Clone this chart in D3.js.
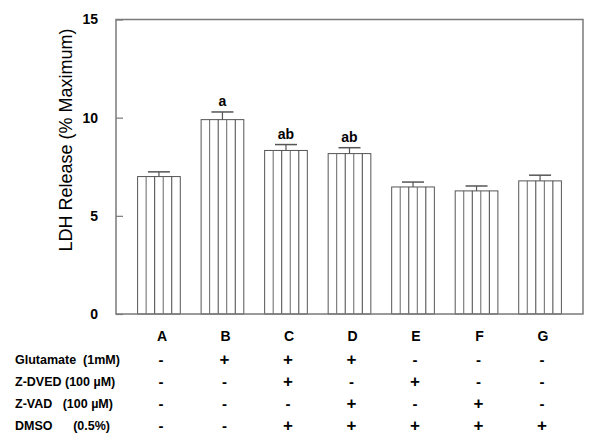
<!DOCTYPE html>
<html>
<head>
<meta charset="utf-8">
<script src="https://cdn.jsdelivr.net/npm/d3@7"></script>
<style>
  html, body { margin: 0; padding: 0; background: #fff; }
  svg { display: block; }
  text { font-family: "Liberation Sans", Arial, sans-serif; }
</style>
</head>
<body>
<svg id="chart" width="600" height="441"></svg>
<script>
const categories = ["A", "B", "C", "D", "E", "F", "G"];
const values = [7.0, 9.9, 8.33, 8.17, 6.47, 6.27, 6.78];
const errors = [0.24, 0.39, 0.3, 0.3, 0.25, 0.25, 0.29];
const sigLabels = ["", "a", "ab", "ab", "", "", ""];
const yTicks = [0, 5, 10, 15];
const rowLabels = [
  ["Glutamate  (1mM)"],
  ["Z-DVED (100 µM)"],
  ["Z-VAD   (100 µM)"],
  ["DMSO", "(0.5%)"]
];
const treatments = [
  ["-", "+", "+", "+", "-", "-", "-"],
  ["-", "-", "+", "-", "+", "-", "-"],
  ["-", "-", "-", "+", "-", "+", "-"],
  ["-", "-", "+", "+", "+", "+", "+"]
];

const svg = d3.select("#chart");
const pLeft = 116, pRight = 583, pTop = 19.5, pBottom = 314;

const x = d3.scaleBand().domain(categories).range([pLeft, pRight])
  .paddingInner(0.328).paddingOuter(0.34);
const y = d3.scaleLinear().domain([0, 15]).range([pBottom, pTop]);

const frameColor = "#7a7a7a";
const barColor = "#555";

// bars with vertical stripes
const bw = x.bandwidth();
const stripes = 5;
categories.forEach((c, i) => {
  const x0 = x(c), y0 = y(values[i]);
  const g = svg.append("g");
  g.append("rect")
    .attr("x", x0).attr("y", y0)
    .attr("width", bw).attr("height", y(0) - y0)
    .attr("fill", "#fff").attr("stroke", barColor).attr("stroke-width", 1);
  for (let k = 1; k < stripes; k++) {
    const xx = x0 + bw * k / stripes;
    g.append("line")
      .attr("x1", xx).attr("x2", xx)
      .attr("y1", y0).attr("y2", y(0))
      .attr("stroke", k % 2 ? "#666" : "#444").attr("stroke-width", 1);
  }
  // error bar
  const cx = x0 + bw / 2, ye = y(values[i] + errors[i]);
  g.append("line").attr("x1", cx).attr("x2", cx).attr("y1", y0).attr("y2", ye)
    .attr("stroke", barColor).attr("stroke-width", 1.2);
  g.append("line").attr("x1", cx - 11).attr("x2", cx + 11).attr("y1", ye).attr("y2", ye)
    .attr("stroke", barColor).attr("stroke-width", 1.5);
  if (sigLabels[i]) {
    g.append("text").attr("x", cx).attr("y", ye - 6)
      .attr("text-anchor", "middle")
      .attr("font-size", 14).attr("font-weight", "bold")
      .text(sigLabels[i]);
  }
});

// frame
svg.append("rect")
  .attr("x", pLeft).attr("y", pTop)
  .attr("width", pRight - pLeft).attr("height", pBottom - pTop)
  .attr("fill", "none").attr("stroke", frameColor).attr("stroke-width", 1.5);

// y axis
const yAxis = d3.axisLeft(y).tickValues(yTicks).tickSize(-7).tickPadding(18)
  .tickFormat(d3.format("d"));
const ga = svg.append("g").attr("transform", `translate(${pLeft},0)`).call(yAxis);
ga.select(".domain").remove();
ga.selectAll(".tick line").attr("stroke", frameColor).attr("stroke-width", 1.2);
ga.selectAll(".tick text")
  .attr("font-size", 14).attr("font-weight", "bold").attr("fill", "#000")
  .attr("font-family", "'Liberation Sans', Arial, sans-serif");

// y title
svg.append("text")
  .attr("transform", "translate(72,140) rotate(-90)")
  .attr("text-anchor", "middle")
  .attr("font-size", 18)
  .text("LDH Release (% Maximum)");

// category letters
const xAxis = d3.axisBottom(x).tickSize(0).tickPadding(0);
const gx = svg.append("g").attr("transform", `translate(3,336)`).call(xAxis);
gx.select(".domain").remove();
gx.selectAll(".tick text")
  .attr("dy", "0.35em")
  .attr("font-size", 14).attr("font-weight", "bold").attr("fill", "#000")
  .attr("font-family", "'Liberation Sans', Arial, sans-serif");

// treatment table
const rowY = [360, 382, 404, 426];
rowLabels.forEach((lab, r) => {
  svg.append("text").attr("x", 15).attr("y", rowY[r]).attr("dy", "0.35em")
    .attr("font-size", 12.5).attr("font-weight", "bold")
    .attr("xml:space", "preserve")
    .text(lab[0]);
  if (lab[1]) {
    svg.append("text").attr("x", 110).attr("y", rowY[r]).attr("dy", "0.35em")
      .attr("text-anchor", "end")
      .attr("font-size", 12.5).attr("font-weight", "bold")
      .text(lab[1]);
  }
  treatments[r].forEach((s, i) => {
    svg.append("text")
      .attr("x", x(categories[i]) + bw / 2 + 2)
      .attr("y", rowY[r] + (s === "+" ? -1 : 0))
      .attr("dy", "0.35em")
      .attr("text-anchor", "middle")
      .attr("font-size", s === "+" ? 17 : 15).attr("font-weight", "bold")
      .text(s);
  });
});
</script>
</body>
</html>
